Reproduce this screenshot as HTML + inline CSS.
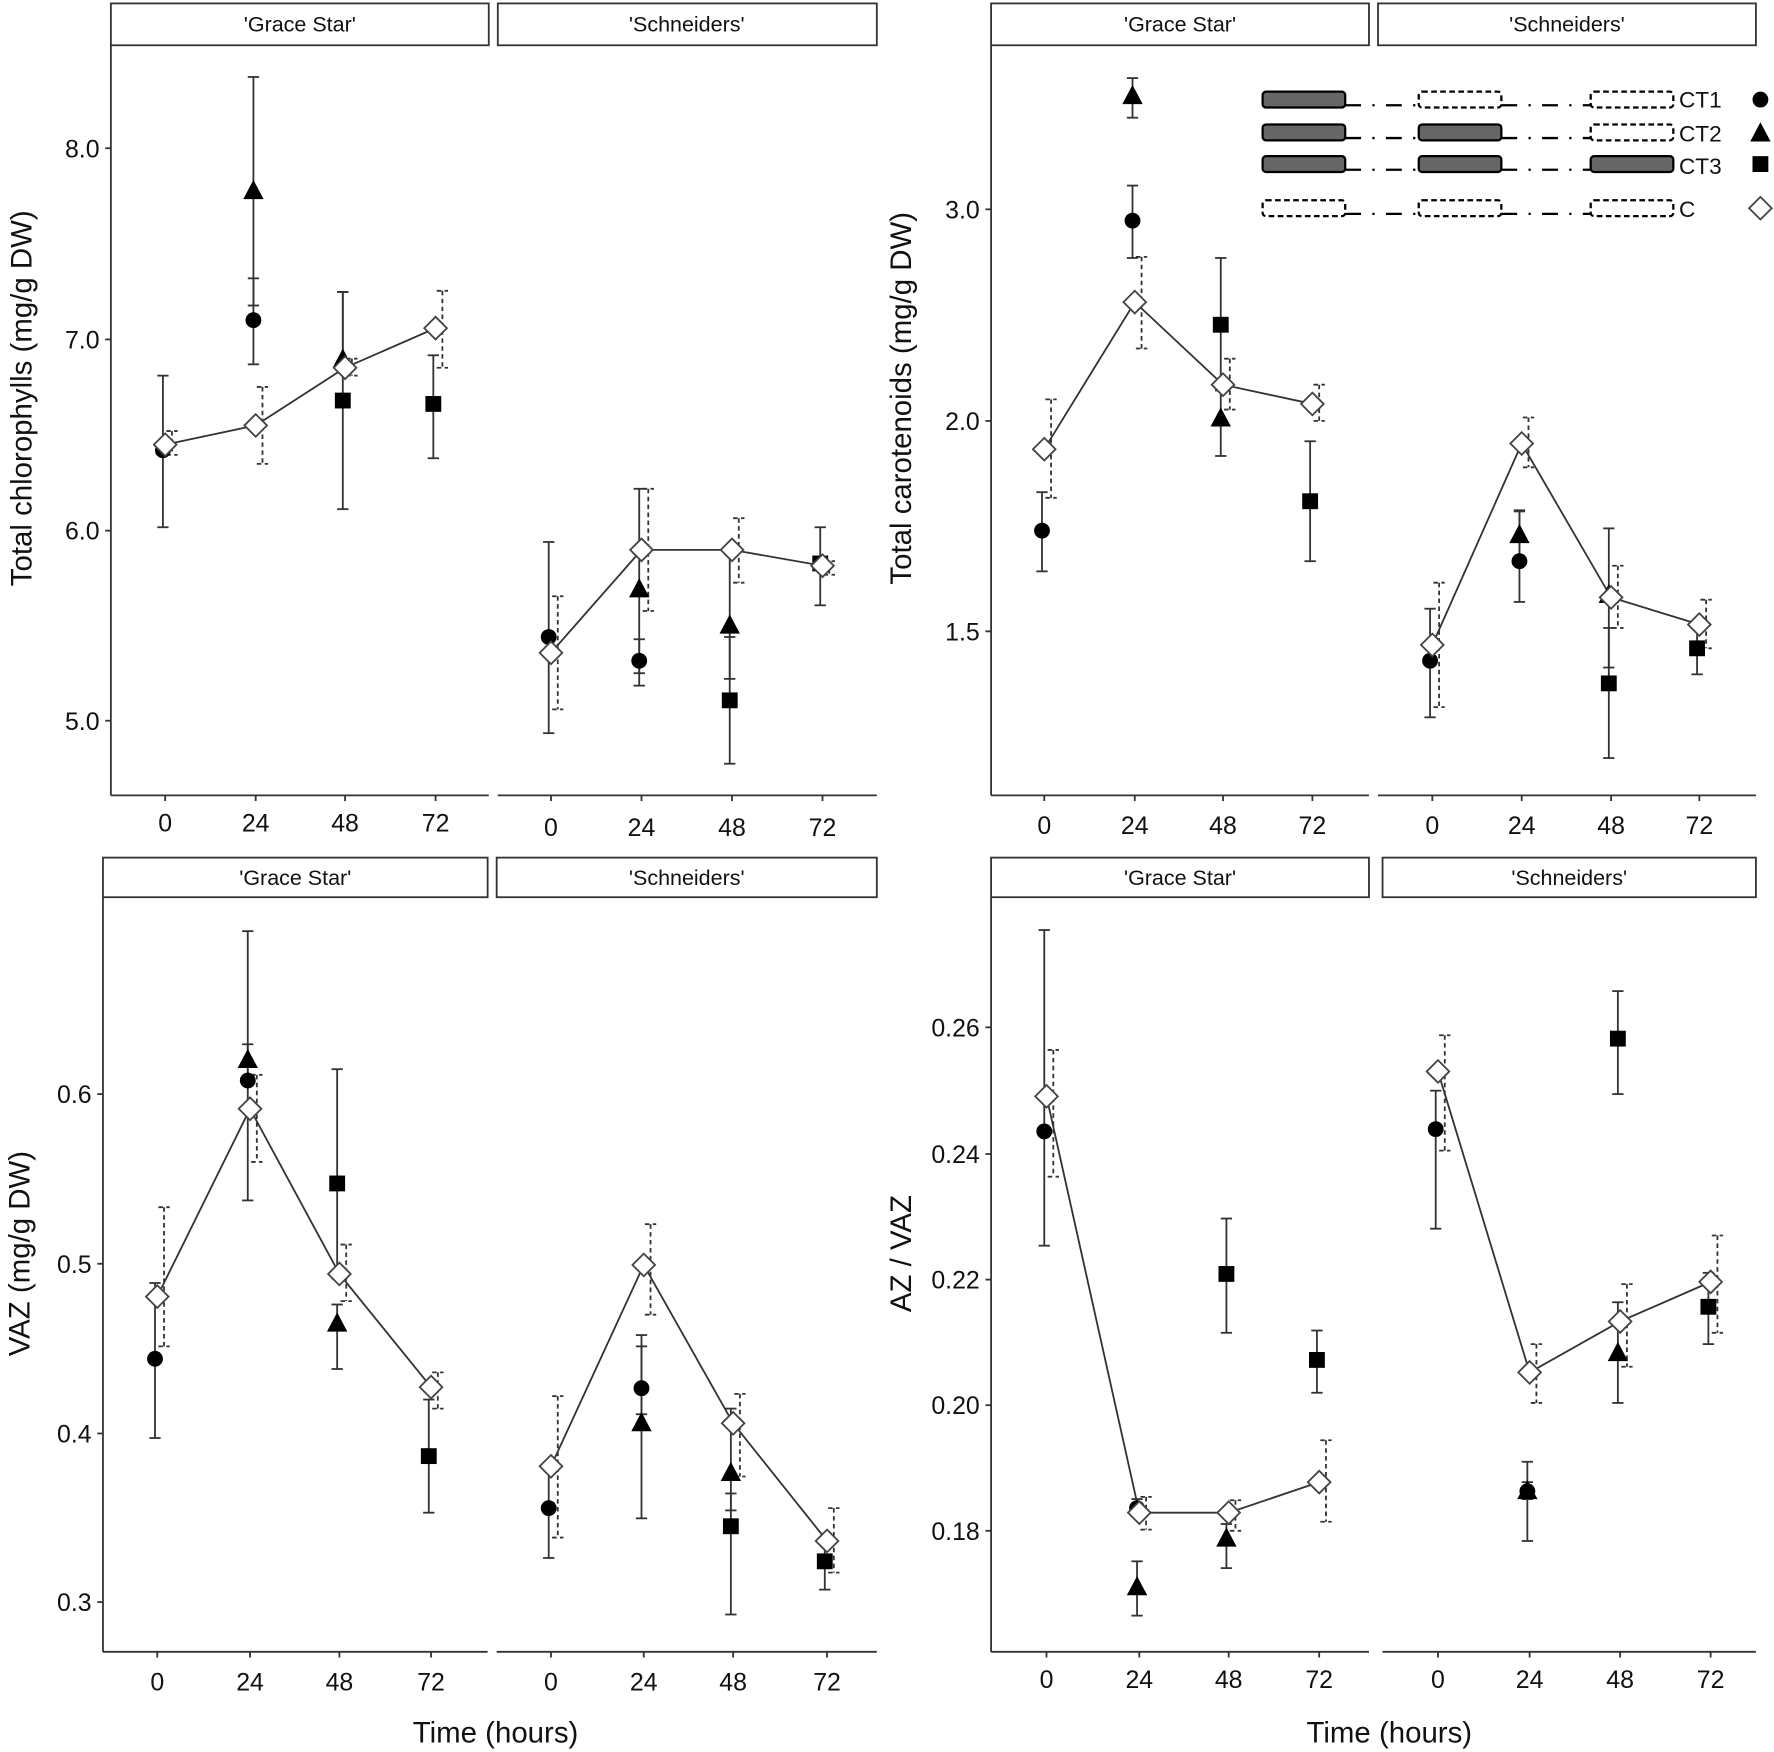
<!DOCTYPE html>
<html><head><meta charset="utf-8"><style>
html,body{margin:0;padding:0;background:#fff}
svg{display:block}
text{font-family:"Liberation Sans",Arial,sans-serif;fill:#111}
</style></head><body>
<svg id="s" width="1774" height="1752" viewBox="0 0 1568 1548.5" xmlns="http://www.w3.org/2000/svg">
<g stroke="#333" stroke-width="1.6" fill="#fff">
<rect x="98" y="3" width="334" height="37"/><rect x="440" y="3" width="335" height="37"/>
<rect x="876" y="3" width="334" height="37"/><rect x="1218" y="3" width="334" height="37"/>
<rect x="91" y="758" width="340" height="35"/><rect x="439" y="758" width="336" height="35"/>
<rect x="876" y="758" width="334" height="35"/><rect x="1222" y="758" width="330" height="35"/>
</g>
<g font-size="19" text-anchor="middle">
<text x="265" y="28">'Grace Star'</text><text x="607" y="28">'Schneiders'</text>
<text x="1043" y="28">'Grace Star'</text><text x="1385" y="28">'Schneiders'</text>
<text x="261" y="782">'Grace Star'</text><text x="607" y="782">'Schneiders'</text>
<text x="1043" y="782">'Grace Star'</text><text x="1387" y="782">'Schneiders'</text>
</g>
<g font-size="22" text-anchor="middle">
<text x="146" y="735">0</text><text x="226" y="735">24</text><text x="305" y="735">48</text><text x="385" y="735">72</text>
<text x="487" y="739">0</text><text x="567" y="739">24</text><text x="647" y="739">48</text><text x="727" y="739">72</text>
<text x="923" y="737">0</text><text x="1003" y="737">24</text><text x="1081" y="737">48</text><text x="1160" y="737">72</text>
<text x="1266" y="737">0</text><text x="1345" y="737">24</text><text x="1424" y="737">48</text><text x="1502" y="737">72</text>
<text x="139" y="1494">0</text><text x="221" y="1494">24</text><text x="300" y="1494">48</text><text x="381" y="1494">72</text>
<text x="487" y="1494">0</text><text x="569" y="1494">24</text><text x="648" y="1494">48</text><text x="731" y="1494">72</text>
<text x="925" y="1492">0</text><text x="1007" y="1492">24</text><text x="1086" y="1492">48</text><text x="1166" y="1492">72</text>
<text x="1271" y="1492">0</text><text x="1352" y="1492">24</text><text x="1432" y="1492">48</text><text x="1512" y="1492">72</text>
</g>
<g font-size="22" text-anchor="end">
<text x="88" y="139">8.0</text><text x="88" y="308">7.0</text><text x="88" y="477">6.0</text><text x="88" y="645">5.0</text>
<text x="866" y="193">3.0</text><text x="866" y="380">2.0</text><text x="866" y="566">1.5</text>
<text x="81" y="975">0.6</text><text x="81" y="1125">0.5</text><text x="81" y="1275">0.4</text><text x="81" y="1424">0.3</text>
<text x="866" y="916">0.26</text><text x="866" y="1028">0.24</text><text x="866" y="1139">0.22</text><text x="866" y="1250">0.20</text><text x="866" y="1361">0.18</text>
</g>
<g font-size="26" text-anchor="middle">
<text transform="translate(28,352) rotate(-90)">Total chlorophylls (mg/g DW)</text>
<text transform="translate(805,352) rotate(-90)">Total carotenoids (mg/g DW)</text>
<text transform="translate(26,1108) rotate(-90)">VAZ (mg/g DW)</text>
<text transform="translate(805,1108) rotate(-90)">AZ / VAZ</text>
<text x="438" y="1540">Time (hours)</text>
<text x="1228" y="1540">Time (hours)</text>
</g>
<g font-size="20">
<text x="1484" y="95">CT1</text><text x="1484" y="125">CT2</text><text x="1484" y="154">CT3</text><text x="1484" y="192">C</text>
</g>
<g id="g"></g>
</svg>
<script>
var g=document.getElementById('g'),h='';
function L(x1,y1,x2,y2,st){h+='<line x1="'+x1+'" y1="'+y1+'" x2="'+x2+'" y2="'+y2+'" stroke="#333" stroke-width="1.6" '+(st||'')+'/>';}
[[98,40,98,703],[98,703,432,703],[440,703,775,703],[876,40,876,703],[876,703,1210,703],[1218,703,1552,703],
 [91,793,91,1460],[91,1460,431,1460],[439,1460,775,1460],[876,793,876,1460],[876,1460,1210,1460],[1222,1460,1552,1460]].forEach(function(a){L(a[0],a[1],a[2],a[3]);});
[[98,[131,300,469,637]],[876,[185,372,558]],[91,[967,1117,1267,1416]],[876,[908,1020,1131,1242,1353]]].forEach(function(a){a[1].forEach(function(y){L(a[0]-5,y,a[0],y);});});
[[703,[146,226,305,385,487,567,647,727,923,1003,1081,1160,1266,1345,1424,1502]],[1460,[139,221,300,381,487,569,648,731,925,1007,1086,1166,1271,1352,1432,1512]]].forEach(function(a){a[1].forEach(function(x){L(x,a[0],x,a[0]+5);});});
function E(x,a,b,d){var st=d?'stroke-dasharray="4,3"':'';L(x,a,x,b,st);L(x-5,a,x+5,a,st);L(x-5,b,x+5,b,st);}
function M(t,x,y){
 if(t==1)h+='<circle cx="'+x+'" cy="'+y+'" r="7" fill="#000"/>';
 else if(t==2)h+='<polygon points="'+x+','+(y-10)+' '+(x-9)+','+(y+7)+' '+(x+9)+','+(y+7)+'" fill="#000"/>';
 else if(t==3)h+='<rect x="'+(x-7)+'" y="'+(y-7)+'" width="14" height="14" fill="#000"/>';
 else h+='<polygon points="'+x+','+(y-10)+' '+(x+10)+','+y+' '+x+','+(y+10)+' '+(x-10)+','+y+'" fill="#fff" stroke="#444" stroke-width="1.6"/>';
}
var P=[
 [[146,226,305,385],[[393,381,402],[376,342,410],[325,317,332],[290,257,325]],
  [[1,0,398,332,466],[1,1,283,246,322],[2,1,169,68,270],[2,2,318,258,320],[3,2,354,258,450],[3,3,357,314,405]]],
 [[487,567,647,727],[[577,527,627],[486,432,540],[486,458,515],[500,496,508]],
  [[1,0,563,479,648],[1,1,584,565,595],[2,1,521,432,606],[2,2,553,486,600],[3,2,619,563,675],[3,3,498,466,535]]],
 [[923,1003,1081,1160],[[397,353,440],[267,227,308],[340,317,362],[357,340,372]],
  [[1,0,469,435,505],[1,1,195,164,228],[2,1,85,69,104],[2,2,370,345,403],[3,2,287,228,345],[3,3,443,390,496]]],
 [[1266,1345,1424,1502],[[570,515,625],[392,369,413],[528,500,555],[552,530,573]],
  [[1,0,584,538,634],[1,1,496,451,532],[2,1,473,452,496],[2,2,526,467,590],[3,2,604,555,670],[3,3,573,552,596]]],
 [[139,221,300,381],[[1146,1067,1190],[980,950,1027],[1126,1100,1150],[1226,1213,1245]],
  [[1,0,1201,1134,1271],[1,1,955,823,1061],[2,1,937,923,955],[2,2,1170,1153,1210],[3,2,1046,945,1130],[3,3,1287,1237,1337]]],
 [[487,569,648,731],[[1296,1234,1359],[1118,1082,1162],[1258,1232,1305],[1362,1333,1390]],
  [[1,0,1333,1295,1377],[1,1,1227,1190,1342],[2,1,1258,1180,1250],[2,2,1302,1245,1335],[3,2,1349,1320,1427],[3,3,1380,1362,1405]]],
 [[925,1007,1086,1166],[[969,928,1040],[1337,1323,1352],[1337,1326,1353],[1310,1273,1345]],
  [[1,0,1000,822,1101],[1,1,1333,1325,1340],[2,1,1403,1380,1428],[2,2,1360,1347,1386],[3,2,1126,1077,1178],[3,3,1202,1176,1231]]],
 [[1271,1352,1432,1512],[[947,915,1017],[1213,1188,1240],[1168,1135,1208],[1133,1092,1178]],
  [[1,0,998,964,1086],[1,1,1318,1310,1325],[2,1,1318,1292,1362],[2,2,1196,1151,1240],[3,2,918,876,967],[3,3,1155,1125,1188]]]
];
P.forEach(function(p){
 var xs=p[0],C=p[1];
 p[2].forEach(function(o){E(xs[o[1]]-2,o[3],o[4],false);});
 C.forEach(function(c,i){E(xs[i]+6,c[1],c[2],true);});
 var pts=C.map(function(c,i){return xs[i]+','+c[0];}).join(' ');
 h+='<polyline points="'+pts+'" fill="none" stroke="#333" stroke-width="1.6"/>';
 p[2].forEach(function(o){M(o[0],xs[o[1]]-2,o[2]);});
 C.forEach(function(c,i){M(4,xs[i],c[0]);});
});
var rows=[[88,[1,0,0],1],[117,[1,1,0],2],[145,[1,1,1],3],[184,[0,0,0],4]],bx=[[1116,1189],[1254,1327],[1406,1479]];
rows.forEach(function(r){var y=r[0];
 for(var i=0;i<3;i++){var f=r[1][i];h+='<rect x="'+bx[i][0]+'" y="'+(y-7)+'" width="'+(bx[i][1]-bx[i][0])+'" height="14" rx="3" fill="'+(f?'#666':'#fff')+'" stroke="#000" stroke-width="2" '+(f?'':'stroke-dasharray="5,3"')+'/>';}
 [[1189,1254],[1327,1406]].forEach(function(s){h+='<line x1="'+s[0]+'" y1="'+(y+5)+'" x2="'+s[1]+'" y2="'+(y+5)+'" stroke="#000" stroke-width="2" stroke-dasharray="14,10,2,10"/>';});
 M(r[2],1556,y+(r[2]==2?1:0));
});
g.innerHTML=h;
</script>
</body></html>
